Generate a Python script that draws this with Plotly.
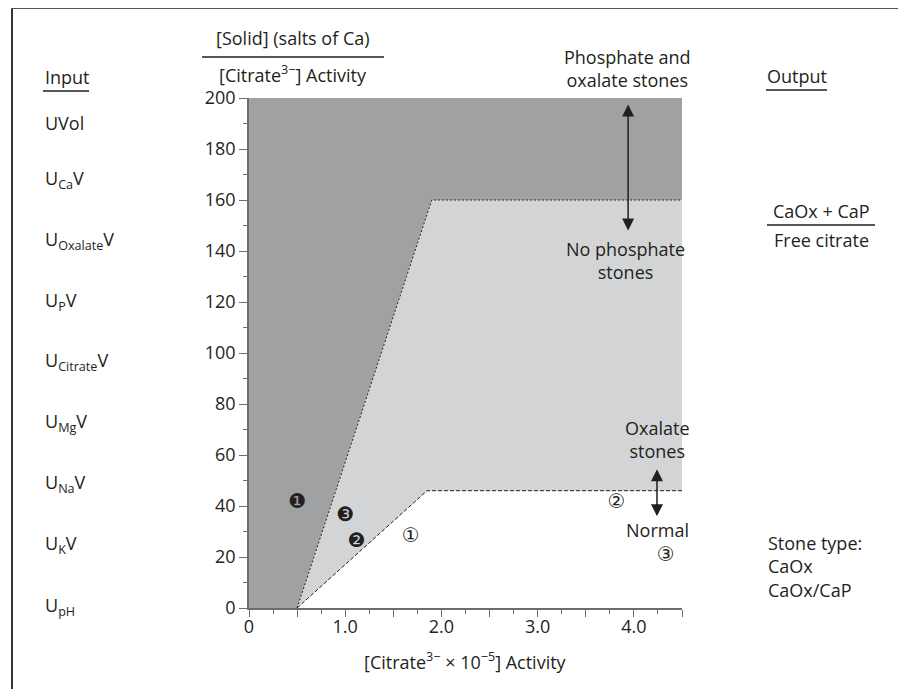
import plotly.graph_objects as go

# ---------------- data ----------------
x_tick_vals = [0, 0.5, 1.0, 1.5, 2.0, 2.5, 3.0, 3.5, 4.0, 4.5]
x_tick_text = ["0", "", "1.0", "", "2.0", "", "3.0", "", "4.0", ""]
y_tick_vals = [0, 20, 40, 60, 80, 100, 120, 140, 160, 180, 200]
y_tick_text = ["0", "20", "40", "60", "80", "100", "120", "140", "160", "180", "200"]

# boundary between phosphate+oxalate stones and no-phosphate region
upper_x = [0.5, 1.9, 4.5]
upper_y = [0, 160, 160]
# boundary between oxalate stones and normal region
lower_x = [0.5, 1.85, 4.5]
lower_y = [0, 46, 46]

x_min, x_max = 0, 4.5
y_min, y_max = 0, 200

# patient points
filled_labels = ["\u2776", "\u2778", "\u2777"]
filled_x = [0.50, 1.00, 1.12]
filled_y = [41, 36, 26]
open_labels = ["\u2460", "\u2461", "\u2462"]
open_x = [1.68, 3.82, 4.33]
open_y = [28, 41, 20.5]

# arrows (x, y_from, y_to)
arrow1 = (3.94, 198, 148)
arrow2 = (4.24, 55, 36)

input_labels = ["UVol", "U<sub>Ca</sub>V", "U<sub>Oxalate</sub>V", "U<sub>P</sub>V",
                "U<sub>Citrate</sub>V", "U<sub>Mg</sub>V", "U<sub>Na</sub>V",
                "U<sub>K</sub>V", "U<sub>pH</sub>"]
input_label_py = [123, 179, 240, 301, 361, 422, 483, 544, 606]

TXT = "#231f20"
DARK = "#a0a1a3"
LIGHT = "#d3d4d6"
FONT = "Open Sans"
FS = 18

# ---------------- figure ----------------
OFF = 8                      # browser body margin
W, H = 906 - OFF, 689 - OFF
L, T = 249 - OFF, 98 - OFF
pw, ph = 433, 510
R, B = W - L - pw, H - T - ph


def fx(p):                   # page pixel -> paper
    return (p - OFF - L) / pw


def fy(p):
    return (T + ph - (p - OFF)) / ph


fig = go.Figure()

# dark region (phosphate and oxalate stones)
dark_x = [x_min] + upper_x + [x_max, x_min]
dark_y = [y_min] + upper_y + [y_max, y_max]
fig.add_trace(go.Scatter(x=dark_x, y=dark_y, fill="toself", fillcolor=DARK,
                         line=dict(width=0), mode="lines", hoverinfo="skip"))
# light region (no phosphate stones)
light_x = upper_x + lower_x[::-1]
light_y = upper_y + lower_y[::-1]
fig.add_trace(go.Scatter(x=light_x, y=light_y, fill="toself", fillcolor=LIGHT,
                         line=dict(width=0), mode="lines", hoverinfo="skip"))
# boundaries
fig.add_trace(go.Scatter(x=upper_x, y=upper_y, mode="lines",
                         line=dict(color=TXT, width=1, dash="2px,2px"), hoverinfo="skip"))
fig.add_trace(go.Scatter(x=lower_x, y=lower_y, mode="lines",
                         line=dict(color=TXT, width=1, dash="4px,2px"), hoverinfo="skip"))
# points
fig.add_trace(go.Scatter(x=filled_x, y=filled_y, mode="text", text=filled_labels,
                         textfont=dict(family="DejaVu Sans", size=20, color=TXT),
                         textposition="middle center", hoverinfo="skip"))
fig.add_trace(go.Scatter(x=open_x, y=open_y, mode="text", text=open_labels,
                         textfont=dict(family="DejaVu Sans", size=20, color=TXT),
                         textposition="middle center", hoverinfo="skip"))

ann = []


def txt(text, px, py, xanchor="center", align="center", size=FS):
    ann.append(dict(text=text, x=fx(px), y=fy(py), xref="paper", yref="paper",
                    xanchor=xanchor, yanchor="middle", align=align, showarrow=False,
                    font=dict(family=FONT, size=size, color=TXT)))


# y-axis fraction title
txt("[Solid] (salts of Ca)", 293, 38)
txt("[Citrate<sup>3\u2212</sup>] Activity", 293, 74)
# x-axis title
txt("[Citrate<sup>3\u2212</sup> \u00d7 10<sup>\u22125</sup>] Activity", 465, 661)
# input column
txt("Input", 43, 77, xanchor="left")
for lab, py in zip(input_labels, input_label_py):
    txt(lab, 43, py, xanchor="left")
# right side
txt("Phosphate and<br>oxalate stones", 627, 69)
txt("No phosphate<br>stones", 625, 260)
txt("Oxalate<br>stones", 657, 439)
txt("Normal", 657, 530)
txt("Output", 797, 76)
txt("CaOx + CaP", 821, 211)
txt("Free citrate", 821, 240)
txt("Stone type:<br>CaOx<br>CaOx/CaP", 766, 566, xanchor="left", align="left")

for (ax_x, y_from, y_to) in [arrow1, arrow2]:
    ann.append(dict(x=ax_x, y=y_to, ax=ax_x, ay=y_from, xref="x", yref="y",
                    axref="x", ayref="y", text="", showarrow=True,
                    arrowhead=2, startarrowhead=2, arrowside="end+start",
                    arrowsize=1.6, startarrowsize=1.6, arrowwidth=1.5,
                    arrowcolor=TXT))

shapes = []


def hline(x0, x1, py, color=TXT, width=1.3):
    shapes.append(dict(type="line", xref="paper", yref="paper", x0=fx(x0), x1=fx(x1),
                       y0=fy(py), y1=fy(py), line=dict(color=color, width=width)))


def vline(px, y0, y1, color=TXT, width=1.3):
    shapes.append(dict(type="line", xref="paper", yref="paper", x0=fx(px), x1=fx(px),
                       y0=fy(y0), y1=fy(y1), line=dict(color=color, width=width)))


hline(202, 384, 57)          # fraction bar y title
hline(43, 89, 91)            # Input underline
hline(766, 827, 90)          # Output underline
hline(767, 875, 225)         # CaOx + CaP fraction bar
# frame
vline(12, 8, 700, color="#333333", width=2)
hline(11, 905, 8, color="#555555", width=2)
vline(904, 8, 700, color="#888888", width=1.5)

AX = "#6d6e71"
fig.update_layout(
    width=W, height=H, margin=dict(l=L, r=R, t=T, b=B, pad=0),
    paper_bgcolor="white", plot_bgcolor="white", showlegend=False,
    annotations=ann, shapes=shapes,
    xaxis=dict(range=[x_min, x_max], tickvals=x_tick_vals, ticktext=x_tick_text,
               ticks="outside", ticklen=7, tickwidth=1.3, tickcolor=AX,
               ticklabelstandoff=-5,
               showline=True, linecolor=AX, linewidth=1.5, showgrid=False,
               zeroline=False, tickfont=dict(family=FONT, size=FS, color=TXT),
               minor=dict(dtick=0.25, ticks="outside", ticklen=4, tickcolor=AX,
                          tickwidth=1.3, showgrid=False)),
    yaxis=dict(range=[y_min, y_max], tickvals=y_tick_vals, ticktext=y_tick_text,
               ticks="outside", ticklen=8, tickwidth=1.3, tickcolor=AX,
               showline=True, linecolor=AX, linewidth=1.5, showgrid=False,
               zeroline=False, tickfont=dict(family=FONT, size=FS, color=TXT),
               minor=dict(dtick=10, ticks="outside", ticklen=4, tickcolor=AX,
                          tickwidth=1.3, showgrid=False)),
)

fig.write_html("out.html")
